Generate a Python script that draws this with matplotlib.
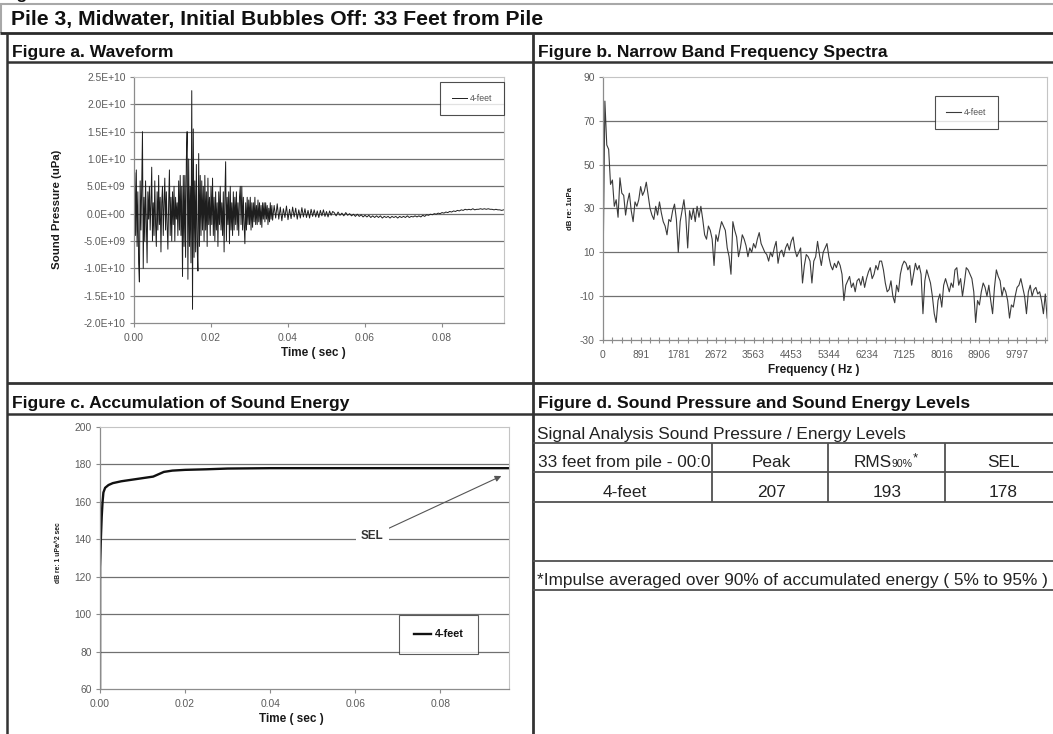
import numpy as np
import matplotlib
matplotlib.use("Agg")
import matplotlib.pyplot as plt
from matplotlib.lines import Line2D
from matplotlib.transforms import Bbox, TransformedBbox

plt.rcParams['font.family'] = ['Liberation Sans', 'DejaVu Sans']
plt.rcParams['axes.unicode_minus'] = False

# ------------------------------------------------------------------ data
page_title = "Pile 3, Midwater, Initial Bubbles Off: 33 Feet from Pile"
panel_a_title = "Figure a. Waveform"
panel_b_title = "Figure b. Narrow Band Frequency Spectra"
panel_c_title = "Figure c. Accumulation of Sound Energy"
panel_d_title = "Figure d. Sound Pressure and Sound Energy Levels"
series_label = "4-feet"

# waveform (sound pressure, units of 1E+09 uPa)
wave_dt_early = 0.0002
wave_early_e9 = [
    0, 7.5, -4, 8, -6, 4, -9, -12.5, 6, -3,
    5, 15, -10, 3, -5, 6, -2, -9, 4, -1,
    5, -3, 2, 8.5, -5, 2, -4, 6, -2, -6,
    4, -3, 7, -2, 3, -7, 2, 5, -4, 2,
    6.5, -3, 4, -2, -6.5, 2, 8, -4, 3, -5,
    4, -2, 5, -5, 3, -1, 2, -4, 6, -3,
    7, -4, 5, -11.5, 7, -6, 7, -8, 10, 15,
    -12, 10, -6, 5, -9, 22.5, -17.5, 15.5, -8, 6,
    -7, 9, -6, -10.5, 11, -6, 7, -4, 6, -3,
    5, -5, 7, -3, 4, -6, 6.5, -2, 3, -4,
    5, -2, 6.5, -4, 3, -5, 4, -3, 2, -6,
    4, -2, 5, -3, 2, -4, 4, -7, 3, 9.5,
    -5, 3, -2, 4, -5.5, 5, -3, 2, -4, 4,
    -3, 3, -2, 4, -3, 2, -4, 3, 5, -2,
    5, -3, 3, -2, -5.5, 2, -3, 3, -2, 2.5,
    -2, 3, -3, 2, -2.5, 2, -1.5, 3, -2, 1.5,
    -2, 2.5, -1.5, 2, -2, 1.5, -2.5, 2, -1, 2,
    -1.5, 2, -1, 1.5, -2, 1, -1.5, 2, -1, 1.5,
]
wave_mid_start, wave_dt_mid = 0.036, 0.0004
wave_mid_e9 = [
    -1.2, 1.5, -0.8, 1.8, -1.0, 1.2, -1.3, 0.9, -0.7, 1.4,
    -1.1, 0.8, -0.9, 1.2, -0.6, 1.0, -1.0, 0.7, -0.8, 1.1,
    -0.6, 0.9, -0.7, 0.6, -0.8, 0.8, -0.5, 0.7, -0.6, 0.5,
    -0.7, 0.6, -0.4, 0.7, -0.5, 0.4, -0.6, 0.5, -0.3, 0.4,
]
wave_late_start, wave_dt_late = 0.052, 0.0005
wave_late_e9 = [
    0.2, -0.4, 0.3, -0.3, 0.1, -0.4, 0.2, -0.3, 0.0, -0.4,
    -0.1, -0.5, -0.1, -0.5, -0.2, -0.6, -0.3, -0.6, -0.3, -0.7,
    -0.4, -0.7, -0.4, -0.7, -0.4, -0.8, -0.5, -0.7, -0.5, -0.8,
    -0.5, -0.7, -0.5, -0.8, -0.5, -0.7, -0.5, -0.7, -0.4, -0.7,
    -0.5, -0.6, -0.4, -0.6, -0.4, -0.6, -0.3, -0.5, -0.2, -0.3,
    -0.1, -0.2, 0.0, -0.1, 0.1, 0.0, 0.2, 0.1, 0.3, 0.2,
    0.4, 0.3, 0.5, 0.4, 0.6, 0.5, 0.7, 0.6, 0.8, 0.7,
    0.8, 0.7, 0.9, 0.7, 0.8, 0.8, 0.9, 0.8, 0.9, 0.8,
    0.9, 0.8, 0.8, 0.7, 0.8, 0.7, 0.7, 0.6, 0.7,
]
wave_yticks = [-2.0e10, -1.5e10, -1.0e10, -5.0e9, 0.0, 5.0e9, 1.0e10, 1.5e10, 2.0e10, 2.5e10]
wave_yticklabels = ['-2.0E+10', '-1.5E+10', '-1.0E+10', '-5.0E+09', '0.0E+00',
                    '5.0E+09', '1.0E+10', '1.5E+10', '2.0E+10', '2.5E+10']
time_ticks = [0.0, 0.02, 0.04, 0.06, 0.08]
time_ticklabels = ['0.00', '0.02', '0.04', '0.06', '0.08']
time_max = 0.0961

# narrow band spectrum (dB re 1 uPa), one value per frequency bin
spec_bin_hz = 44.53
spectrum_db = [
    0, 79, 59, 57, 41, 43, 31, 34, 26, 44,
    37, 36, 27, 33, 37, 29, 24, 33, 31, 34,
    40, 36, 38, 42, 36, 30, 27, 25, 31, 27,
    33, 28, 24, 22, 18, 25, 24, 29, 32, 25,
    10, 24, 29, 34, 26, 12, 29, 25, 30, 24,
    31, 26, 31, 25, 18, 16, 22, 20, 16, 4,
    18, 15, 20, 24, 22, 20, 12, 8, 0, 24,
    20, 17, 8, 12, 18, 16, 13, 8, 12, 10,
    14, 12, 16, 19, 14, 12, 10, 9, 6, 10,
    8, 12, 15, 5, 10, 11, 8, 12, 14, 11,
    15, 17, 11, 8, 10, 12, -4, 4, 9, 8,
    6, -4, 6, 8, 15, 9, 4, 10, 12, 14,
    8, 4, 2, 5, 3, 6, 4, 0, -12, -5,
    -3, -1, -6, -4, -8, -3, -2, -5, -1, -6,
    -2, 1, 3, -2, 0, 4, 2, 6, 6, 2,
    -4, -8, -7, -3, -10, -13, -5, -8, 0, 4,
    6, 5, 2, 4, -5, 0, 5, 2, 4, 0,
    -18, -3, 2, -1, -4, -10, -18, -22, -12, -9,
    -15, -5, -2, -5, -8, -4, -6, 2, 3, -5,
    -2, -10, -4, 3, 2, 0, -2, -8, -22, -12,
    -14, -8, -4, -6, -10, -5, -12, -18, -6, 2,
    -1, -3, -10, -6, -8, -12, -20, -14, -15, -10,
    -6, -5, -2, -6, -10, -18, -8, -5, -10, -7,
    -6, -9, -8, -12, -18, -9, -20,
]
freq_tick_step = 890.6
freq_ticklabels = ['0', '891', '1781', '2672', '3563', '4453', '5344',
                   '6234', '7125', '8016', '8906', '9797']
freq_max = 10505
spec_yticks = [-30, -10, 10, 30, 50, 70, 90]

# accumulation of sound energy (dB re 1 uPa^2 sec)
sel_time = [0.0, 0.00002, 0.0002, 0.0004, 0.0006, 0.0008, 0.0012, 0.002, 0.003,
            0.005, 0.008, 0.011, 0.0125, 0.0135, 0.015, 0.017, 0.020, 0.025,
            0.030, 0.040, 0.0961]
sel_db = [45, 125, 140, 152, 160, 165, 167.5, 169, 170,
          171, 172, 173, 173.5, 174.5, 176, 176.7, 177.1, 177.4,
          177.8, 178, 178]
sel_yticks = [60, 80, 100, 120, 140, 160, 180, 200]
sel_arrow_point = (0.0943, 173.8)
sel_text_point = (0.064, 141.8)

# table
table_title = "Signal Analysis Sound Pressure / Energy Levels"
table_header = ["33 feet from pile - 00:0", "Peak", "RMS", "SEL"]
rms_subscript = "90%"
table_row = ["4-feet", "207", "193", "178"]
footnote = "*Impulse averaged over 90% of accumulated energy ( 5% to 95% )"

# ------------------------------------------------------------------ figure
W, H = 1053, 734
fig = plt.figure(figsize=(W / 100, H / 100), dpi=100)
fig.patch.set_facecolor('white')


def fx(x):
    return x / W


def fy(y):
    return 1 - y / H


def rect(l, t, r, b):
    return [fx(l), fy(b), fx(r) - fx(l), fy(t) - fy(b)]


def hline(y, x0, x1, color='#333333', lw=1.8):
    fig.add_artist(Line2D([fx(x0), fx(x1)], [fy(y), fy(y)], color=color, lw=lw,
                          solid_capstyle='butt'))


def vline(x, y0, y1, color='#333333', lw=1.8):
    fig.add_artist(Line2D([fx(x), fx(x)], [fy(y0), fy(y1)], color=color, lw=lw,
                          solid_capstyle='butt'))


GRID = '#707070'
TICKC = '#5c5c5c'


def style_axes(ax, yticks):
    for s in ['top', 'right']:
        ax.spines[s].set_color('#c4c4c4')
        ax.spines[s].set_linewidth(0.8)
    for s in ['left', 'bottom']:
        ax.spines[s].set_color('#8c8c8c')
        ax.spines[s].set_linewidth(0.9)
    for v in yticks[1:-1]:
        ax.axhline(v, color=GRID, lw=0.9, zorder=0.5)
    ax.tick_params(axis='both', direction='out', length=3, width=0.8,
                   color='#8c8c8c', labelsize=7.4, labelcolor=TICKC)
    ax.tick_params(axis='y', pad=3)
    ax.tick_params(axis='x', pad=4)


# page frame ---------------------------------------------------------------
fig.text(fx(2), fy(-1.0), "Figure", fontsize=12.5, fontweight='bold',
         ha='left', va='baseline', color='#111111')
hline(4, 0, W, color='#a8a8a8', lw=1.5)
vline(1, 4, 33, color='#a8a8a8', lw=1.5)
hline(33, 0, W, color='#2a2a2a', lw=2.0)
fig.text(fx(11), fy(24.5), page_title, fontsize=15.2, fontweight='bold',
         ha='left', va='baseline', color='#111111')

vline(7, 33, H)
vline(533, 33, H, lw=2.0)
hline(62, 7, W)
hline(383, 7, W, lw=2.0)
hline(414, 7, W)

fig.text(fx(11.5), fy(56.5), panel_a_title, fontsize=12.6, fontweight='bold',
         ha='left', va='baseline', color='#111111')
fig.text(fx(538), fy(56.5), panel_b_title, fontsize=12.6, fontweight='bold',
         ha='left', va='baseline', color='#111111')
fig.text(fx(11.5), fy(408), panel_c_title, fontsize=12.6, fontweight='bold',
         ha='left', va='baseline', color='#111111')
fig.text(fx(538), fy(408), panel_d_title, fontsize=12.6, fontweight='bold',
         ha='left', va='baseline', color='#111111')

# panel a: waveform ----------------------------------------------------------
t_early = np.arange(len(wave_early_e9)) * wave_dt_early
t_mid = wave_mid_start + np.arange(len(wave_mid_e9)) * wave_dt_mid
t_late = wave_late_start + np.arange(len(wave_late_e9)) * wave_dt_late
t_wave = np.concatenate([t_early, t_mid, t_late])
p_wave = np.concatenate([wave_early_e9, wave_mid_e9, wave_late_e9]) * 1e9

axa = fig.add_axes(rect(134, 77, 504, 323))
axa.plot(t_wave, p_wave, color='#1e1e1e', lw=0.7, label=series_label)
axa.set_xlim(0, time_max)
axa.set_ylim(wave_yticks[0], wave_yticks[-1])
axa.set_yticks(wave_yticks)
axa.set_yticklabels(wave_yticklabels)
axa.set_xticks(time_ticks)
axa.set_xticklabels(time_ticklabels)
style_axes(axa, wave_yticks)
lg = axa.legend(loc='upper right', bbox_to_anchor=(1.0, 0.98), borderaxespad=0,
                fancybox=False, frameon=True, fontsize=6.3, handlelength=1.7,
                handletextpad=0.3, borderpad=1.35, labelcolor='#555555')
lg.get_frame().set_edgecolor('#222222')
lg.get_frame().set_linewidth(0.8)
fig.text(fx(313), fy(353), "Time ( sec )", fontsize=8.5, fontweight='bold',
         ha='center', va='center', color='#1a1a1a')
fig.text(fx(57), fy(209), "Sound Pressure (uPa)", fontsize=8.2, fontweight='bold',
         ha='center', va='center', rotation=90, color='#1a1a1a')

# panel b: spectrum ------------------------------------------------------------
freq = np.arange(len(spectrum_db)) * spec_bin_hz
axb = fig.add_axes(rect(603, 77, 1047, 340))
axb.plot(freq, spectrum_db, color='#3a3a3a', lw=0.8, label=series_label)
axb.set_xlim(0, freq_max)
axb.set_ylim(spec_yticks[0], spec_yticks[-1])
axb.set_yticks(spec_yticks)
major_f = np.arange(len(freq_ticklabels)) * freq_tick_step
axb.set_xticks(major_f)
axb.set_xticklabels(freq_ticklabels)
axb.set_xticks(np.arange(0, freq_max, freq_tick_step / 4), minor=True)
style_axes(axb, spec_yticks)
axb.tick_params(axis='x', which='both', direction='inout', length=5, width=0.8,
                color='#8c8c8c')
axb.tick_params(axis='x', pad=5)
lg = axb.legend(loc='upper right', bbox_to_anchor=((998 - 603) / 444, 1 - 19 / 263),
                borderaxespad=0, fancybox=False, frameon=True, fontsize=6.3,
                handlelength=1.7, handletextpad=0.3, borderpad=1.35,
                labelcolor='#555555')
lg.get_frame().set_edgecolor('#222222')
lg.get_frame().set_linewidth(0.8)
fig.text(fx(814), fy(370), "Frequency ( Hz )", fontsize=8.5, fontweight='bold',
         ha='center', va='center', color='#1a1a1a')
fig.text(fx(570), fy(209), "dB re: 1uPa", fontsize=5.6, fontweight='bold',
         ha='center', va='center', rotation=90, color='#1a1a1a')

# panel c: accumulation ----------------------------------------------------------
axc = fig.add_axes(rect(100, 427, 509, 689))
axc.plot(sel_time, sel_db, color='#111111', lw=1.7, label=series_label,
         solid_joinstyle='round')
axc.set_xlim(0, time_max)
axc.set_ylim(sel_yticks[0], sel_yticks[-1])
axc.set_yticks(sel_yticks)
axc.set_xticks(time_ticks)
axc.set_xticklabels(time_ticklabels)
style_axes(axc, sel_yticks)
axc.annotate("SEL", xy=sel_arrow_point, xytext=sel_text_point,
             fontsize=8.4, fontweight='bold', color='#333333',
             ha='center', va='center',
             bbox=dict(boxstyle='square,pad=0.45', fc='white', ec='none'),
             arrowprops=dict(arrowstyle='-|>', color='#555555', lw=0.8,
                             mutation_scale=9, shrinkA=0, shrinkB=0))
lg = axc.legend(loc='lower right', bbox_to_anchor=((478 - 100) / 409, 35 / 262),
                borderaxespad=0, fancybox=False, frameon=True,
                prop={'size': 7.8, 'weight': 'bold'}, handlelength=1.6,
                handletextpad=0.3, borderpad=1.35, labelcolor='#111111')
lg.get_frame().set_edgecolor('#333333')
lg.get_frame().set_linewidth(0.8)
fig.text(fx(291), fy(719), "Time ( sec )", fontsize=8.5, fontweight='bold',
         ha='center', va='center', color='#1a1a1a')
fig.text(fx(58), fy(553), "dB re: 1 uPa^2 sec", fontsize=4.9, fontweight='bold',
         ha='center', va='center', rotation=90, color='#1a1a1a')

# panel d: table -----------------------------------------------------------------
TAB = '#505050'
for y in [443, 472, 502, 561, 590]:
    hline(y, 533, W, color=TAB, lw=1.3)
for x in [712, 828, 945]:
    vline(x, 443, 502, color=TAB, lw=1.3)

TXT = '#222222'
fig.text(fx(537), fy(439), table_title, fontsize=12.4, ha='left', va='baseline',
         color=TXT)
t0 = fig.text(fx(538), fy(467), table_header[0], fontsize=12.4, ha='left',
              va='baseline', color=TXT)
t0.set_clip_box(TransformedBbox(Bbox([[fx(533), fy(472)], [fx(711), fy(443)]]),
                                fig.transFigure))
t0.set_clip_on(True)
fig.text(fx(771), fy(467), table_header[1], fontsize=12.4, ha='center',
         va='baseline', color=TXT)
fig.text(fx(892), fy(467), table_header[2], fontsize=12.4, ha='right',
         va='baseline', color=TXT)
fig.text(fx(892), fy(467), rms_subscript, fontsize=7.6, ha='left',
         va='baseline', color=TXT)
fig.text(fx(913), fy(461), "*", fontsize=9.5, ha='left', va='baseline', color=TXT)
fig.text(fx(1003), fy(467), table_header[3], fontsize=12.4, ha='center',
         va='baseline', color=TXT)
for xc, s in zip([625, 771, 887, 1003], table_row):
    fig.text(fx(xc), fy(497), s, fontsize=12.4, ha='center', va='baseline',
             color=TXT)
fig.text(fx(537), fy(585), footnote, fontsize=12.4, ha='left', va='baseline',
         color=TXT)

fig.savefig("out.png", dpi=100, facecolor='white')
